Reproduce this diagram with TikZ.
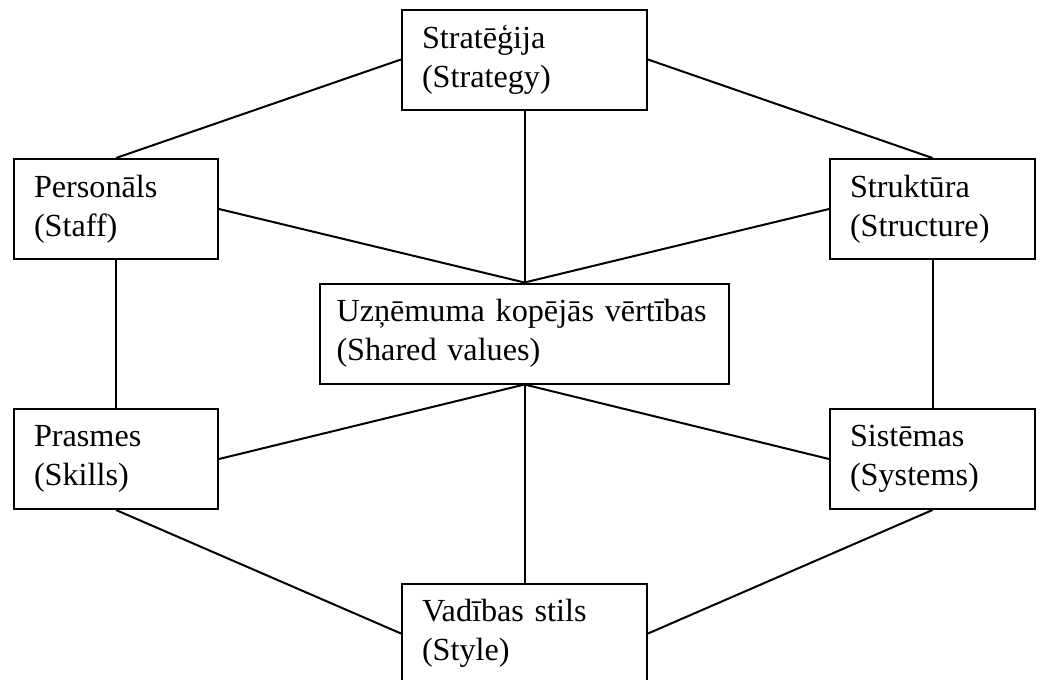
\documentclass[tikz,border=0pt]{standalone}
\usepackage{fontspec}
\setmainfont{Liberation Serif}
\usepackage{tikz}
\tikzset{
  every node/.style={font=\fontsize{16.1}{19.5}\selectfont},
  elem/.style={draw,line width=1pt,rectangle,minimum height=50pt,inner xsep=10pt,inner ysep=0pt,align=left,text width=#1},
  link/.style={line width=1pt}
}

\begin{document}
\begin{tikzpicture}[x=0.5pt,y=-0.5pt]
  \clip (0,0) rectangle (1040,680);
  \node[elem=102.5pt] (hStrategy) at (524.5,59.5) {Stratēģija\\(Strategy)};
  \node[elem=82pt] (hStaff) at (116,209) {Personāls\\(Staff)};
  \node[elem=82.5pt] (hStructure) at (932.5,209) {Struktūra\\(Structure)};
  \node[elem=188pt,inner xsep=8.25pt] (hValues) at (524.5,333.5) {Uzņēmuma kopējās vērtības\\(Shared values)};
  \node[elem=82pt] (hSkills) at (116,459) {Prasmes\\(Skills)};
  \node[elem=82.5pt] (hSystems) at (932.5,459) {Sistēmas\\(Systems)};
  \node[elem=102.5pt] (hStyle) at (524.5,633.5) {Vadības stils\\(Style)};
  \foreach \a/\b in {hStrategy.west/hStaff.north,hStrategy.east/hStructure.north,
    hStrategy.south/hValues.north,hStaff.east/hValues.north,hStructure.west/hValues.north,
    hStaff.south/hSkills.north,hStructure.south/hSystems.north,
    hSkills.east/hValues.south,hSystems.west/hValues.south,hValues.south/hStyle.north,
    hSkills.south/hStyle.west,hSystems.south/hStyle.east}
    \draw[link] (\a) -- (\b);
\end{tikzpicture}
\end{document}
